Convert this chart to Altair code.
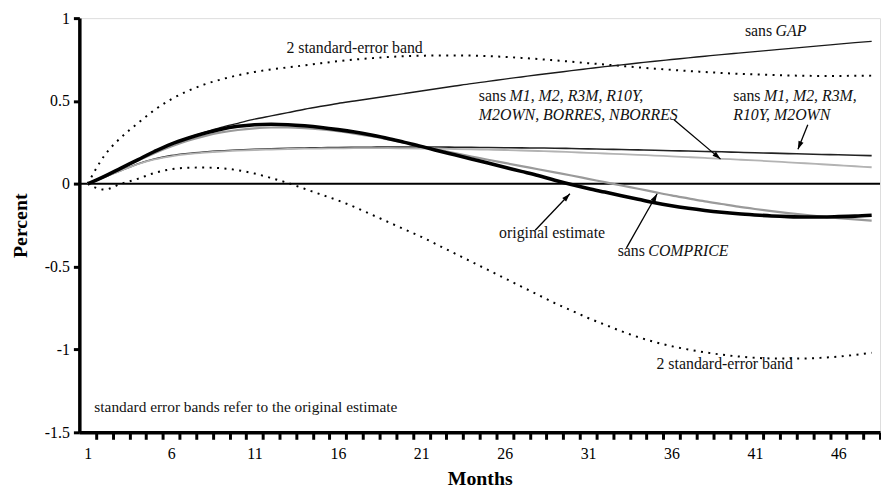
import math
import altair as alt
import pandas as pd

# ---------------- data ----------------
months = list(range(1, 49))

original = [0.0, 0.045, 0.095, 0.145, 0.195, 0.24, 0.275, 0.305, 0.33, 0.347,
            0.357, 0.36, 0.357, 0.35, 0.34, 0.327, 0.312, 0.294, 0.274, 0.25,
            0.226, 0.2, 0.175, 0.15, 0.125, 0.1, 0.075, 0.05, 0.022, -0.004,
            -0.028, -0.05, -0.072, -0.093, -0.115, -0.133, -0.148, -0.161, -0.172, -0.181,
            -0.188, -0.194, -0.198, -0.2, -0.2, -0.198, -0.195, -0.19]

sans_comprice = [0.0, 0.045, 0.093, 0.14, 0.185, 0.225, 0.26, 0.288, 0.31, 0.325,
                 0.335, 0.34, 0.34, 0.336, 0.328, 0.317, 0.303, 0.287, 0.268, 0.248,
                 0.227, 0.206, 0.185, 0.165, 0.145, 0.126, 0.107, 0.088, 0.069, 0.05,
                 0.03, 0.01, -0.01, -0.03, -0.05, -0.07, -0.088, -0.106, -0.122, -0.138,
                 -0.152, -0.165, -0.177, -0.188, -0.198, -0.207, -0.215, -0.222]

sans_gap = [0.0, 0.045, 0.095, 0.145, 0.195, 0.24, 0.277, 0.31, 0.34, 0.365,
            0.39, 0.41, 0.43, 0.45, 0.468, 0.485, 0.5, 0.515, 0.53, 0.545,
            0.56, 0.575, 0.59, 0.605, 0.618, 0.632, 0.645, 0.658, 0.67, 0.683,
            0.695, 0.707, 0.718, 0.729, 0.74, 0.75, 0.76, 0.77, 0.78, 0.789,
            0.798, 0.807, 0.816, 0.825, 0.834, 0.843, 0.852, 0.86]

sans_m2own = [0.0, 0.04, 0.08, 0.12, 0.15, 0.17, 0.183, 0.192, 0.199, 0.204,
              0.208, 0.211, 0.214, 0.216, 0.218, 0.219, 0.22, 0.221, 0.222, 0.222,
              0.222, 0.222, 0.221, 0.22, 0.219, 0.218, 0.217, 0.216, 0.215, 0.213,
              0.211, 0.209, 0.207, 0.205, 0.203, 0.2, 0.198, 0.195, 0.193, 0.19,
              0.187, 0.185, 0.182, 0.18, 0.177, 0.175, 0.172, 0.17]

sans_nborres = [0.0, 0.04, 0.08, 0.118, 0.147, 0.166, 0.179, 0.188, 0.195, 0.2,
                0.204, 0.207, 0.21, 0.212, 0.213, 0.214, 0.215, 0.215, 0.215, 0.214,
                0.213, 0.212, 0.21, 0.208, 0.206, 0.204, 0.201, 0.198, 0.195, 0.191,
                0.187, 0.183, 0.179, 0.175, 0.17, 0.166, 0.161, 0.156, 0.151, 0.146,
                0.141, 0.136, 0.13, 0.124, 0.118, 0.112, 0.106, 0.1]

band_upper = [0.0, 0.17, 0.28, 0.365, 0.445, 0.51, 0.56, 0.6, 0.63, 0.655,
              0.675, 0.69, 0.703, 0.715, 0.728, 0.74, 0.75, 0.758, 0.765, 0.77,
              0.773, 0.775, 0.775, 0.774, 0.771, 0.766, 0.76, 0.753, 0.745, 0.737,
              0.728, 0.72, 0.711, 0.703, 0.695, 0.688, 0.681, 0.675, 0.669, 0.664,
              0.66, 0.657, 0.654, 0.652, 0.651, 0.651, 0.652, 0.653]

band_lower = [0.0, -0.035, 0.0, 0.03, 0.065, 0.088, 0.097, 0.098, 0.094, 0.082,
              0.062, 0.035, 0.005, -0.03, -0.065, -0.1, -0.14, -0.185, -0.23, -0.275,
              -0.32, -0.37, -0.42, -0.47, -0.52, -0.57, -0.62, -0.67, -0.72, -0.765,
              -0.81, -0.85, -0.89, -0.925, -0.955, -0.98, -1.0, -1.017, -1.031, -1.042,
              -1.05, -1.054, -1.055, -1.054, -1.05, -1.043, -1.033, -1.02]

y_ticks = [-1.5, -1.0, -0.5, 0.0, 0.5, 1.0]

# annotations
label_month = [17.0, 40.4, 40.4, 24.45, 24.45, 24.45, 39.7, 39.7, 39.7, 28.84, 32.77, 32.77, 35.1, 1.4]
label_value = [0.82, 0.925, 0.925, 0.53, 0.53, 0.417, 0.53, 0.53, 0.417, -0.298, -0.405, -0.405, -1.089, -1.345]
label_text = ["2 standard-error band", "sans", "GAP",
              "sans", "M1, M2, R3M, R10Y,", "M2OWN, BORRES, NBORRES",
              "sans", "M1, M2, R3M,", "R10Y, M2OWN",
              "original estimate", "sans", "COMPRICE",
              "2 standard-error band", "standard error bands refer to the original estimate"]
label_style = ["normal", "normal", "italic", "normal", "italic", "italic", "normal", "italic", "italic",
               "normal", "normal", "italic", "normal", "normal"]
label_align = ["center", "left", "left", "left", "left", "left", "left", "left", "left",
               "center", "left", "left", "left", "left"]
label_dx = [0, 0, 31, 0, 31, 0, 0, 31, 0, 0, 0, 31, 0, 0]
label_size = [16, 16, 16, 16, 16, 16, 16, 16, 16, 16, 16, 16, 16, 15.5]

# arrows: start (month, value) -> head (month, value)
arrow_m1 = [36.15, 44.17, 27.83, 33.3]
arrow_v1 = [0.387, 0.357, -0.28, -0.387]
arrow_m2 = [38.94, 43.58, 29.91, 35.14]
arrow_v2 = [0.149, 0.208, -0.06, -0.06]

# ---------------- layout ----------------
W, H = 808, 418
XMIN, XMAX = 0.5, 48.5
YMIN, YMAX = -1.5, 1.0
FONT = "Liberation Serif"
PXM = W / (XMAX - XMIN)
PXV = H / (YMAX - YMIN)

xscale = alt.Scale(domain=[XMIN, XMAX], nice=False, zero=False)
yscale = alt.Scale(domain=[YMIN, YMAX], nice=False, zero=False)

xaxis = alt.Axis(
    title="Months", values=months, grid=False,
    labelExpr="(datum.value - 1) % 5 == 0 ? datum.label : ''",
    tickOffset=PXM / 2, labelOffset=-PXM / 2,
    domainColor="black", domainWidth=3.5, tickColor="black", tickWidth=3, tickSize=7,
    labelFont=FONT, labelFontSize=16, labelColor="black", labelPadding=6,
    titleFont=FONT, titleFontSize=20, titleFontWeight="bold", titleColor="black", titlePadding=8,
)
yaxis = alt.Axis(
    title="Percent", values=y_ticks, grid=False,
    labelExpr="'' + datum.value",
    domainColor="black", domainWidth=3.5, tickColor="black", tickWidth=3, tickSize=6,
    labelFont=FONT, labelFontSize=16, labelColor="black", labelPadding=4,
    titleFont=FONT, titleFontSize=20, titleFontWeight="bold", titleColor="black", titlePadding=14,
)


def xe(field="month"):
    return alt.X(f"{field}:Q", scale=xscale, axis=xaxis)


def ye(field="value"):
    return alt.Y(f"{field}:Q", scale=yscale, axis=yaxis)


def line_layer(values, color, width, dash=None):
    df = pd.DataFrame({"month": months, "value": values})
    kw = dict(color=color, strokeWidth=width, interpolate="monotone", strokeCap="butt")
    if dash:
        kw["strokeDash"] = dash
    return alt.Chart(df).mark_line(**kw).encode(x=xe(), y=ye())


zero_df = pd.DataFrame({"value": [0.0]})
zero_line = alt.Chart(zero_df).mark_rule(color="black", strokeWidth=2).encode(y=ye())

layers = [
    zero_line,
    line_layer(band_upper, "black", 2, [2, 5.5]),
    line_layer(band_lower, "black", 2, [2, 5.5]),
    line_layer(sans_gap, "#1a1a1a", 1.4),
    line_layer(sans_m2own, "#222222", 1.6),
    line_layer(sans_nborres, "#b3b3b3", 1.8),
    line_layer(sans_comprice, "#9a9a9a", 2.2),
    line_layer(original, "black", 3.6),
]

# arrows
angles = []
for a, b, c, d in zip(arrow_m1, arrow_v1, arrow_m2, arrow_v2):
    dx = (c - a) * PXM
    dy = -(d - b) * PXV
    angles.append(math.degrees(math.atan2(dx, -dy)) % 360)
arrow_df = pd.DataFrame({"month": arrow_m1, "value": arrow_v1,
                         "month2": arrow_m2, "value2": arrow_v2, "angle": angles})
layers.append(
    alt.Chart(arrow_df).mark_rule(color="black", strokeWidth=1.3).encode(
        x=xe(), y=ye(), x2="month2:Q", y2="value2:Q")
)
layers.append(
    alt.Chart(arrow_df).mark_point(
        shape="M0,0L-0.65,2L0.65,2Z", filled=True, color="black", opacity=1, size=70
    ).encode(x=xe("month2"), y=ye("value2"), angle=alt.Angle("angle:Q", scale=None))
)

# text annotations
for m, v, t, st, al, dx, fs in zip(label_month, label_value, label_text, label_style,
                                   label_align, label_dx, label_size):
    tdf = pd.DataFrame({"month": [m], "value": [v], "txt": [t]})
    layers.append(
        alt.Chart(tdf).mark_text(
            font=FONT, fontSize=fs, fontStyle=st, align=al, baseline="middle",
            dx=dx, color="#111111"
        ).encode(x=xe(), y=ye(), text="txt:N")
    )

chart = alt.layer(*layers).properties(
    width=W, height=H, autosize="none",
    padding={"left": 72, "top": 8, "right": 1, "bottom": 58},
).configure_view(stroke=None).configure(background="white")

chart.save("out.html", embed_options={"renderer": "svg", "actions": False})
